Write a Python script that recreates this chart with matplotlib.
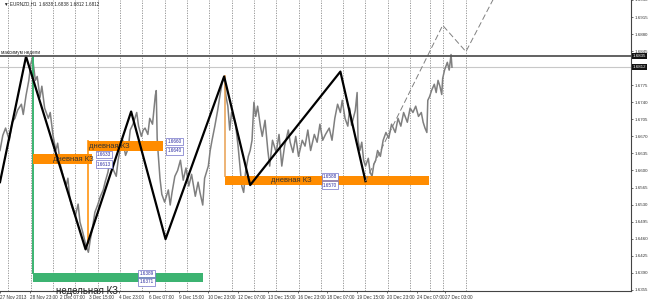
import matplotlib
matplotlib.use("Agg")
import matplotlib.pyplot as plt
import numpy as np

plt.rcParams['font.family'] = ['Liberation Sans', 'DejaVu Sans']

# H1 close prices EURNZD (bar index, price)
bars = [0, 3, 6, 10, 13, 16, 19, 23, 25, 28, 31, 33, 35, 38, 40, 43, 45, 48, 52, 54,
        57, 60, 62, 65, 68, 71, 73, 75, 77, 81, 84, 86, 89, 92, 95, 97, 99, 102, 105, 108,
        111, 113, 116, 118, 121, 125, 127, 129, 132, 135, 138, 140, 143, 145, 147, 149, 152, 154, 156, 159,
        161, 164, 167, 168, 169, 170, 172, 174, 177, 181, 183, 185, 188, 191, 194, 197, 200, 203, 206, 210,
        213, 215, 218, 220, 224, 226, 228, 231, 234, 237, 239, 241, 243, 245, 247, 249, 253, 256, 258, 260,
        262, 264, 267, 269, 271, 273, 275, 277, 280, 282, 285, 288, 290, 293, 297, 300, 303, 306, 310, 312,
        315, 318, 321, 325, 328, 331, 334, 338, 341, 344, 347, 350, 354, 357, 360, 363, 366, 368, 371, 374,
        376, 378, 382, 384, 385, 387, 389, 391, 393, 396, 398, 400, 402, 404, 406, 409, 412, 415, 418, 421,
        425, 428, 431, 434, 438, 441, 444, 447, 450, 453, 455, 457, 459, 460, 462, 464, 467, 469, 471, 473,
        475, 476, 478, 481, 483, 485, 486]
prices = [1.6641, 1.6672, 1.6687, 1.6662, 1.6699, 1.6707, 1.6724, 1.6736, 1.6715, 1.6754,
          1.6785, 1.6818, 1.6832, 1.6785, 1.6793, 1.6750, 1.6773, 1.6728, 1.6707, 1.6719,
          1.6672, 1.6641, 1.6656, 1.6611, 1.6588, 1.6568, 1.6584, 1.6543, 1.6527, 1.6506,
          1.6531, 1.6494, 1.6473, 1.6449, 1.6432, 1.6457, 1.6477, 1.6514, 1.6529, 1.6547,
          1.6560, 1.6576, 1.6596, 1.6617, 1.6605, 1.6588, 1.6621, 1.6641, 1.6662, 1.6631,
          1.6646, 1.6683, 1.6695, 1.6707, 1.6719, 1.6691, 1.6670, 1.6683, 1.6687, 1.6674,
          1.6707, 1.6695, 1.6754, 1.6764, 1.6666, 1.6637, 1.6584, 1.6551, 1.6535, 1.6560,
          1.6529, 1.6555, 1.6588, 1.6600, 1.6621, 1.6580, 1.6605, 1.6568, 1.6592, 1.6547,
          1.6576, 1.6555, 1.6529, 1.6584, 1.6609, 1.6641, 1.6662, 1.6691, 1.6723, 1.6760,
          1.6781, 1.6793, 1.6752, 1.6732, 1.6683, 1.6719, 1.6699, 1.6650, 1.6609, 1.6568,
          1.6555, 1.6596, 1.6629, 1.6641, 1.6662, 1.6740, 1.6711, 1.6732, 1.6691, 1.6670,
          1.6703, 1.6641, 1.6609, 1.6662, 1.6637, 1.6674, 1.6609, 1.6650, 1.6683, 1.6658,
          1.6637, 1.6670, 1.6629, 1.6662, 1.6650, 1.6683, 1.6641, 1.6674, 1.6658, 1.6695,
          1.6662, 1.6674, 1.6687, 1.6662, 1.6707, 1.6736, 1.6719, 1.6744, 1.6707, 1.6691,
          1.6728, 1.6693, 1.6723, 1.6760, 1.6662, 1.6641, 1.6658, 1.6621, 1.6609, 1.6625,
          1.6596, 1.6588, 1.6613, 1.6621, 1.6641, 1.6629, 1.6662, 1.6678, 1.6666, 1.6695,
          1.6678, 1.6707, 1.6691, 1.6719, 1.6699, 1.6728, 1.6719, 1.6732, 1.6711, 1.6719,
          1.6699, 1.6687, 1.6678, 1.6744, 1.6752, 1.6764, 1.6777, 1.6760, 1.6785, 1.6773,
          1.6756, 1.6789, 1.6806, 1.6822, 1.6806, 1.6838, 1.6812]

# zigzag swings
zz_bars = [0, 28, 92, 141, 178, 241, 269, 366, 393]
zz_prices = [1.6576, 1.6834, 1.6438, 1.6721, 1.6459, 1.6793, 1.6570, 1.6803, 1.6578]

# projected path (dashed)
proj_bars = [393, 476, 501, 560]
proj_prices = [1.6578, 1.6898, 1.6844, 1.7060]

# zones: (start bar, end bar, top, bottom)
day_zones = [(35, 99, 1.6633, 1.6613), (95, 175, 1.6660, 1.6640), (242, 461, 1.6588, 1.6570)]
week_zone = (35, 218, 1.6389, 1.6371)
zone_text_bar = [57, 96, 291]
zone_label_bar = [104, 180, 347]
week_label_bar = 150

weekly_high = 1.6835
bid = 1.6812

separators = [9, 33, 57, 81, 105, 129, 153, 177, 201, 225, 249, 273, 297, 321, 345,
              369, 393, 417, 441, 462, 476, 501]
tick_bars = [0, 32, 64, 96, 128, 160, 192, 224, 256, 288, 320, 352, 384, 416, 448, 478]
tick_labels = ["27 Nov 2013", "28 Nov 23:00", "2 Dec 07:00", "3 Dec 15:00", "4 Dec 23:00",
               "6 Dec 07:00", "9 Dec 15:00", "10 Dec 23:00", "12 Dec 07:00", "13 Dec 15:00",
               "16 Dec 23:00", "18 Dec 07:00", "19 Dec 15:00", "20 Dec 23:00", "24 Dec 07:00",
               "27 Dec 03:00"]
# 1.6810 sits under the bid label in the terminal, so it is left out
price_ticks = [p for p in np.round(np.arange(1.6355, 1.6951, 0.0035), 4) if p != 1.681]

fig = plt.figure(figsize=(6.5, 3.02), dpi=100)
ax = fig.add_axes([0, 11 / 302, 631 / 650, 291 / 302])
ax.set_xlim(0, 631 / 0.93)
ax.set_ylim(1.63525, 1.6949)

for s in separators:
    ax.axvline(s, color='#8a8a8a', lw=0.6, ls=(0, (1.5, 1.5)), zorder=1)

orange = '#ff8c00'
green = '#3cb371'
label_box = dict(boxstyle='square,pad=0.25', fc='white', ec='#7070c8', lw=0.5)

# weekly zone
b0, b1, top, bot = week_zone
ax.fill_between([b0, b1], bot, top, color=green, lw=0, zorder=3)
ax.plot([b0, b0], [weekly_high, top], color=green, lw=1.4, zorder=3)
ax.text(week_label_bar, top, f"{top:.4f}", fontsize=3.3, color='#2a2aa0', va='center',
        bbox=label_box, zorder=6)
ax.text(week_label_bar, bot, f"{bot:.4f}", fontsize=3.3, color='#2a2aa0', va='center',
        bbox=label_box, zorder=6)
ax.text(60, 1.63525, "недельная КЗ", fontsize=7, color='#222222', va='center',
        clip_on=False, zorder=6)

# daily zones
for (b0, b1, top, bot), tb, lb in zip(day_zones, zone_text_bar, zone_label_bar):
    ax.fill_between([b0, b1], bot, top, color=orange, lw=0, zorder=3)
    ax.text(tb, (top + bot) / 2, "дневная КЗ", fontsize=5.5, color='#333333', va='center', zorder=6)
    ax.text(lb, top, f"{top:.4f}", fontsize=3.3, color='#2a2aa0', va='center', bbox=label_box, zorder=6)
    ax.text(lb, bot, f"{bot:.4f}", fontsize=3.3, color='#2a2aa0', va='center', bbox=label_box, zorder=6)
ax.plot([95, 95], [1.6660, 1.6452], color=orange, lw=1.3, alpha=0.85, zorder=3)
ax.plot([242, 242], [1.6793, 1.6588], color='#e8a050', lw=1.3, alpha=0.85, zorder=3)

ax.plot(bars, prices, color='#7f7f7f', lw=1.1, zorder=2)
ax.plot(zz_bars, zz_prices, color='black', lw=1.6, zorder=4)
ax.plot(proj_bars, proj_prices, color='#808080', lw=0.7, ls=(0, (6, 3)), zorder=4)

ax.axhline(weekly_high, color='#555555', lw=1.3, zorder=5)
ax.axhline(bid, color='#c8c8c8', lw=0.8, zorder=1)
ax.text(1, weekly_high + 0.0002, "максимум недели", fontsize=3.3, color='#222222', va='bottom')

ax.text(4, 1.6942, "▼ EURNZD,H1  1.6838 1.6838 1.6812 1.6812", fontsize=3.3, color='#222222',
        va='center', family=['Liberation Sans', 'DejaVu Sans'])

for sp in ['top', 'left']:
    ax.spines[sp].set_visible(False)
for sp in ['right', 'bottom']:
    ax.spines[sp].set_color('#444444')
    ax.spines[sp].set_linewidth(0.8)

ax.yaxis.tick_right()
ax.set_yticks(price_ticks)
ax.set_yticklabels([f"{p:.4f}" for p in price_ticks])
ax.tick_params(axis='y', labelsize=3.2, length=1.5, width=0.5, pad=1, colors='#333333')

ax.set_xticks(tick_bars)
ax.set_xticklabels(tick_labels, ha='left')
ax.tick_params(axis='x', labelsize=3.3, length=1.5, width=0.5, pad=1.5, colors='#333333')

for val in [weekly_high, bid]:
    ax.annotate(f"{val:.4f}", xy=(1, val), xycoords=('axes fraction', 'data'),
                xytext=(1, 0), textcoords='offset points', fontsize=3.2, color='white',
                va='center', ha='left', annotation_clip=False,
                bbox=dict(boxstyle='square,pad=0.2', fc='#111111', ec='none'), zorder=7)

fig.savefig("out.png", dpi=100)
